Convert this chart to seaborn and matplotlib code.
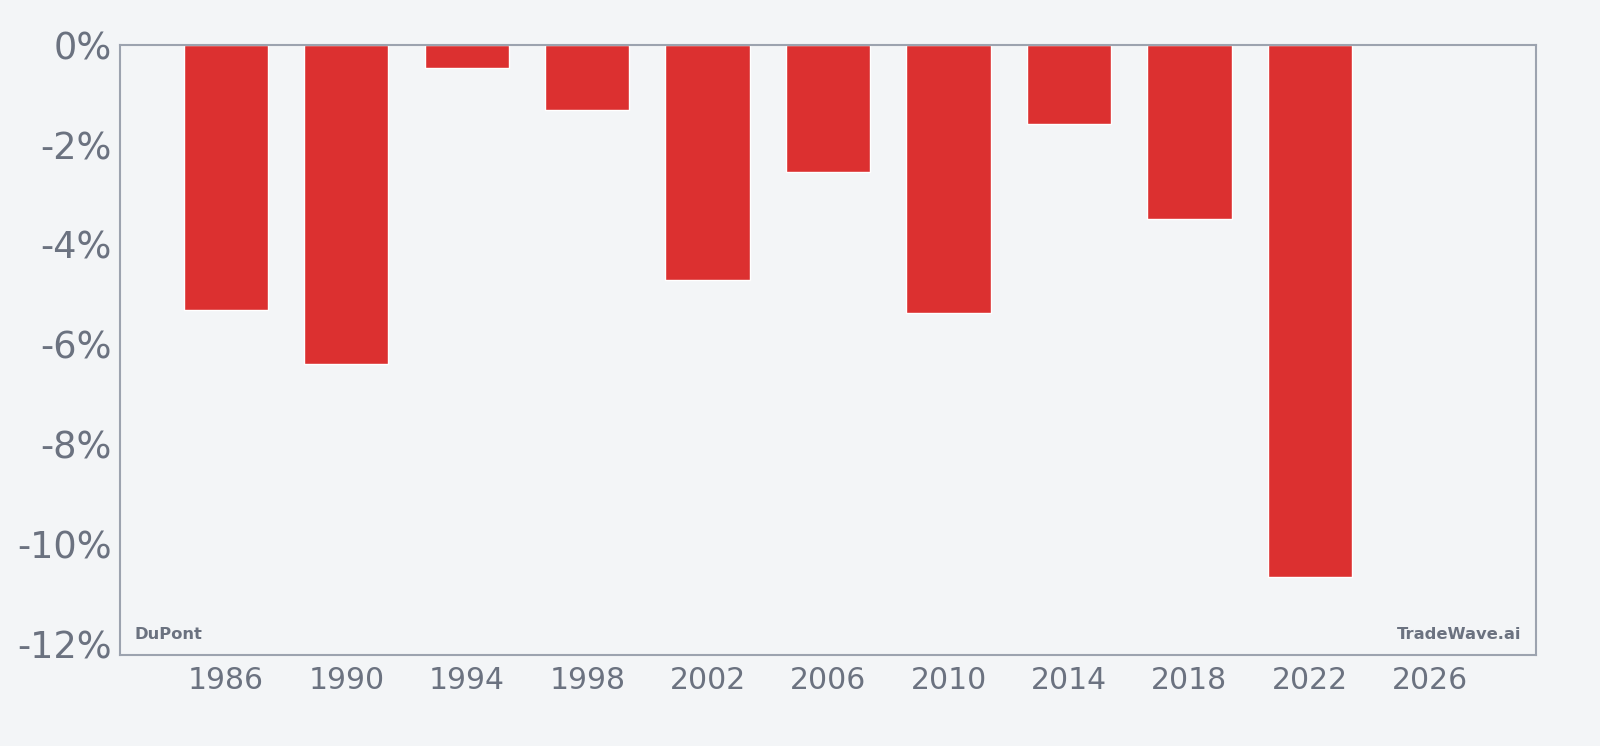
import numpy as np
import pandas as pd
import seaborn as sns
import matplotlib.pyplot as plt
from matplotlib.ticker import FuncFormatter

years = [1986, 1990, 1994, 1998, 2002, 2006, 2010, 2014, 2018, 2022]
returns = [-5.32, -6.4, -0.47, -1.31, -4.71, -2.54, -5.37, -1.58, -3.49, -10.67]
x_ticks = [1986, 1990, 1994, 1998, 2002, 2006, 2010, 2014, 2018, 2022, 2026]
y_ticks = [0, -2, -4, -6, -8, -10, -12]

bg = "#f3f5f7"
grey_text = "#6b7280"
grey_line = "#9ca3af"
bar_red = "#dc3030"

sns.set_style("white")
plt.rcParams["font.family"] = ["DejaVu Sans"]

df = pd.DataFrame({"year": years, "ret": returns})

fig = plt.figure(figsize=(16, 7.46), dpi=100, facecolor=bg)
ax = fig.add_axes([0.0753, 0.1218, 0.8845, 0.818])
ax.set_facecolor(bg)

sns.barplot(data=df, x="year", y="ret", native_scale=True, width=0.7,
            color=bar_red, saturation=1, errorbar=None, ax=ax)

ax.set_xlim(1982.5, 2029.5)
ax.set_ylim(-12.23, 0)
ax.set_xticks(x_ticks)
ax.set_yticks(y_ticks)
ax.yaxis.set_major_formatter(FuncFormatter(lambda v, p: f"{v:.0f}%"))
ax.set_xlabel("")
ax.set_ylabel("")

for s in ax.spines.values():
    s.set_color(grey_line)
    s.set_linewidth(1.5)

ax.tick_params(axis="x", labelsize=21.5, colors=grey_text, length=5, width=1, color=grey_line, pad=3)
ax.tick_params(axis="y", labelsize=26.5, colors=grey_text, length=5, width=1, color=grey_line, pad=1.5)

ax.text(0.01, 0.022, "DuPont", transform=ax.transAxes, fontsize=11.8,
        fontweight="bold", color=grey_text, ha="left", va="bottom")
ax.text(0.99, 0.022, "TradeWave.ai", transform=ax.transAxes, fontsize=11.8,
        fontweight="bold", color=grey_text, ha="right", va="bottom")

fig.savefig("out.png", dpi=100, facecolor=bg)
